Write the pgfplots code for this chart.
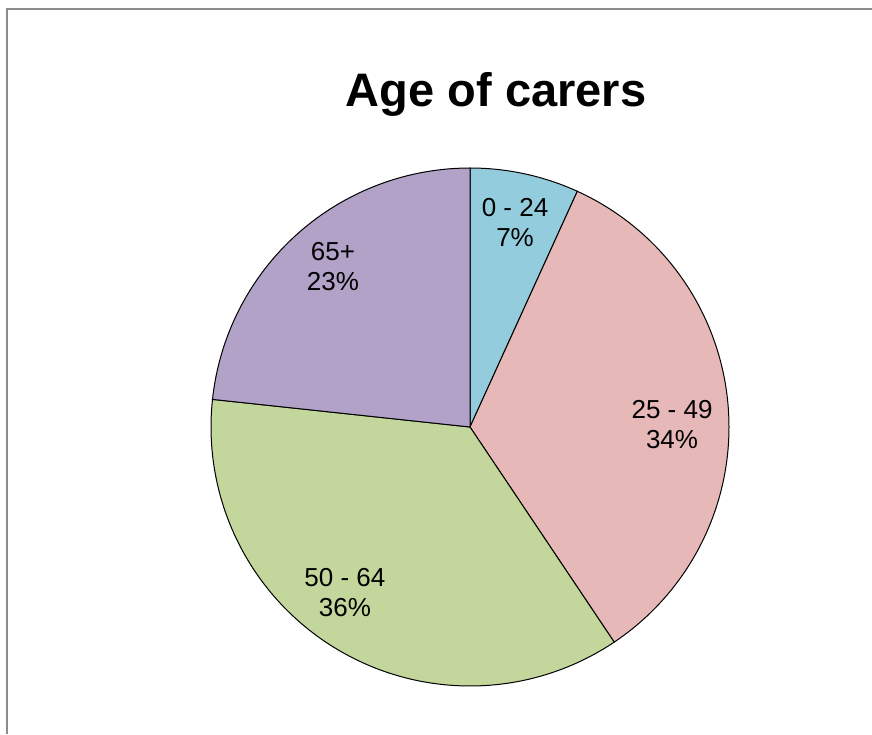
\documentclass[border=0pt]{standalone}
\usepackage{pgfplots}
\pgfplotsset{compat=1.18}
\usepackage{fontspec}
\setmainfont{Liberation Sans}
\definecolor{pieblue}{HTML}{93CDDD}
\definecolor{piepink}{HTML}{E6B9B8}
\definecolor{piegreen}{HTML}{C3D69B}
\definecolor{piepurple}{HTML}{B3A2C7}
\definecolor{framegray}{HTML}{8C8C8C}
% shares in percent
\def\valA{6.8}
\def\valB{33.8}
\def\valC{36.1}
\def\valD{23.3}
\pgfmathsetmacro\aZ{90}
\pgfmathsetmacro\aA{\aZ-3.6*\valA}
\pgfmathsetmacro\aB{\aA-3.6*\valB}
\pgfmathsetmacro\aC{\aB-3.6*\valC}
\pgfmathsetmacro\aD{\aC-3.6*\valD}
\begin{document}
\begin{tikzpicture}[x=1pt,y=1pt]
\useasboundingbox (0,0) rectangle (872,734);
\fill[white] (0,0) rectangle (872,734);
\draw[framegray, line width=2pt] (7,0) -- (7,724.5) -- (872,724.5);
\node[anchor=base, font=\fontsize{47}{56}\selectfont\bfseries] at (496,627) {Age of carers};
\begin{axis}[
  at={(470pt,307pt)}, anchor=origin,
  scale only axis, width=518pt, height=518pt,
  xmin=-1, xmax=1, ymin=-1, ymax=1,
  hide axis, clip=false,
]
\addplot[fill=pieblue, draw=black, line width=1pt, domain=\aA:\aZ, samples=40] ({cos(x)},{sin(x)}) -- (0,0) -- cycle;
\addplot[fill=piepink, draw=black, line width=1pt, domain=\aB:\aA, samples=120] ({cos(x)},{sin(x)}) -- (0,0) -- cycle;
\addplot[fill=piegreen, draw=black, line width=1pt, domain=\aC:\aB, samples=120] ({cos(x)},{sin(x)}) -- (0,0) -- cycle;
\addplot[fill=piepurple, draw=black, line width=1pt, domain=\aD:\aC, samples=80] ({cos(x)},{sin(x)}) -- (0,0) -- cycle;
\tikzset{lbl/.style={align=center, font=\fontsize{26}{30}\selectfont, inner sep=0pt}}
\node[lbl] at (0.174,0.79) {0 - 24\\7\%};
\node[lbl] at (0.78,0.008) {25 - 49\\34\%};
\node[lbl] at (-0.483,-0.64) {50 - 64\\36\%};
\node[lbl] at (-0.529,0.618) {65+\\23\%};
\end{axis}
\end{tikzpicture}
\end{document}
